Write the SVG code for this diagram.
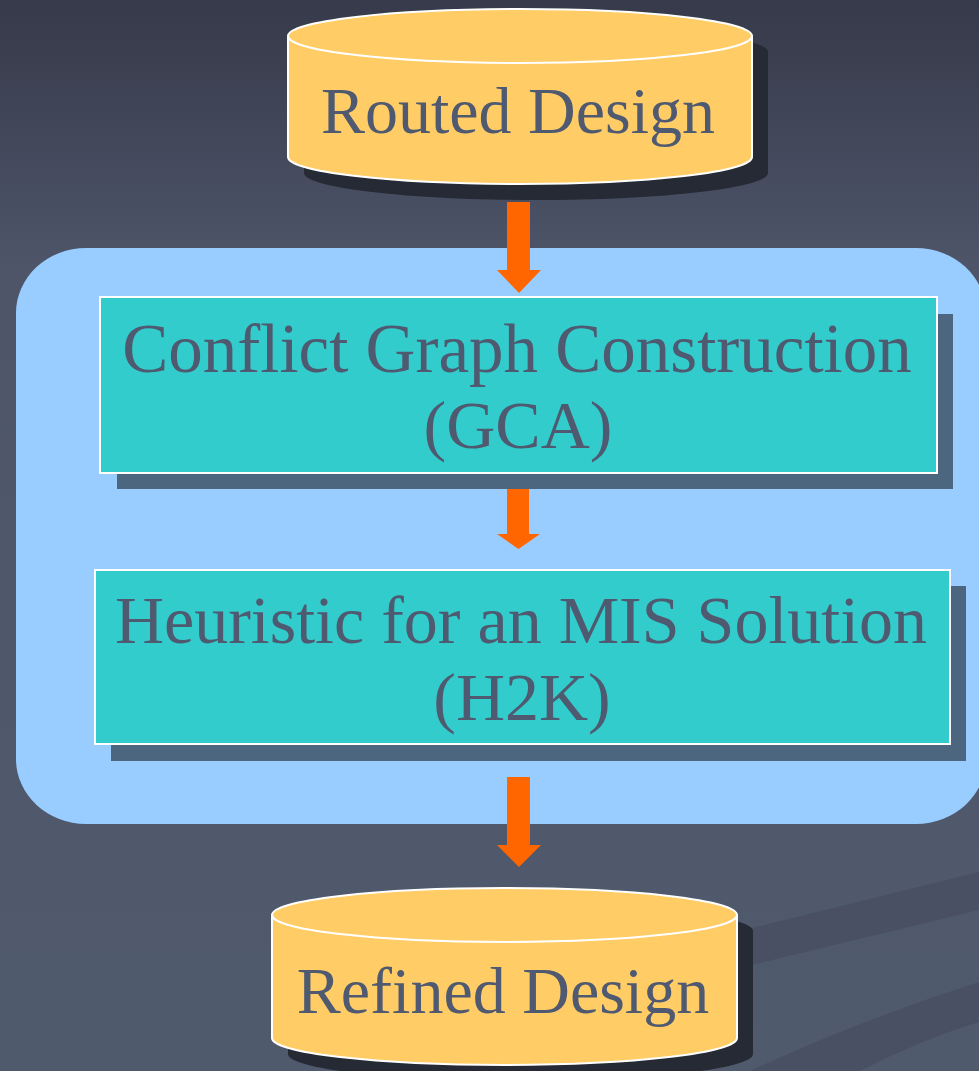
<svg xmlns="http://www.w3.org/2000/svg" width="979" height="1071" viewBox="0 0 979 1071">
<defs>
<linearGradient id="bg" x1="0" y1="0" x2="0" y2="1">
<stop offset="0" stop-color="#363a4a"/>
<stop offset="0.25" stop-color="#4e5569"/>
<stop offset="1" stop-color="#505a6d"/>
</linearGradient>
<style>
.lbl{font-family:"Liberation Serif","Times New Roman",serif;fill:#4f5a70;text-anchor:middle}
.cyl{fill:#ffcc66;stroke:#ffffff;stroke-width:2}
.cylsh{fill:#262a35}
.box{fill:#33cccc;stroke:#ffffff;stroke-width:2}
.boxsh{fill:#4c6680}
.arrow{fill:#ff6600}
</style>
</defs>
<rect width="979" height="1071" fill="url(#bg)"/>
<polygon points="752,928 979,872 979,910 752,965" fill="#4a5064"/>
<path d="M750,1071 Q860,1020 979,982 L979,1022 Q920,1040 860,1071 Z" fill="#4a5064"/>
<rect id="panel" x="16" y="248" width="970" height="576" rx="70" ry="65" fill="#99ccff"/>
<g id="routed-design">
<path class="cylsh" d="M304,52 A232,27 0 0 1 768,52 L768,173 A232,27 0 0 1 304,173 Z"/>
<path class="cyl" d="M288,36 A232,27 0 0 1 752,36 L752,157 A232,27 0 0 1 288,157 Z"/>
<path d="M288,36 A232,27 0 0 0 752,36" fill="none" stroke="#ffffff" stroke-width="2"/>
<text class="lbl" x="518" y="133" font-size="66">Routed Design</text>
</g>
<g id="gca">
<rect class="boxsh" x="117" y="314" width="836" height="175"/>
<rect class="box" x="100" y="297" width="837" height="176"/>
<text class="lbl" x="517" y="372" font-size="69">Conflict Graph Construction</text>
<text class="lbl" x="518" y="448" font-size="68">(GCA)</text>
</g>
<g id="h2k">
<rect class="boxsh" x="111" y="586" width="855" height="175"/>
<rect class="box" x="95" y="570" width="855" height="174"/>
<text class="lbl" x="521" y="643" font-size="68">Heuristic for an MIS Solution</text>
<text class="lbl" x="522" y="720" font-size="68">(H2K)</text>
</g>
<g id="refined-design">
<path class="cylsh" d="M288,931 A232.5,27 0 0 1 753,931 L753,1054 A232.5,27 0 0 1 288,1054 Z"/>
<path class="cyl" d="M272,915 A232.5,27 0 0 1 737,915 L737,1038 A232.5,27 0 0 1 272,1038 Z"/>
<path d="M272,915 A232.5,27 0 0 0 737,915" fill="none" stroke="#ffffff" stroke-width="2"/>
<text class="lbl" x="503" y="1013" font-size="66">Refined Design</text>
</g>
<g id="connectors">
<path class="arrow" d="M507,202 L530,202 L530,270 L541,270 L519,293 L497,270 L507,270 Z"/>
<path class="arrow" d="M507,489 L529,489 L529,534 L540,534 L518.5,549 L497,534 L507,534 Z"/>
<path class="arrow" d="M507,777 L530,777 L530,845 L541,845 L519,867 L497,845 L507,845 Z"/>
</g>
</svg>
